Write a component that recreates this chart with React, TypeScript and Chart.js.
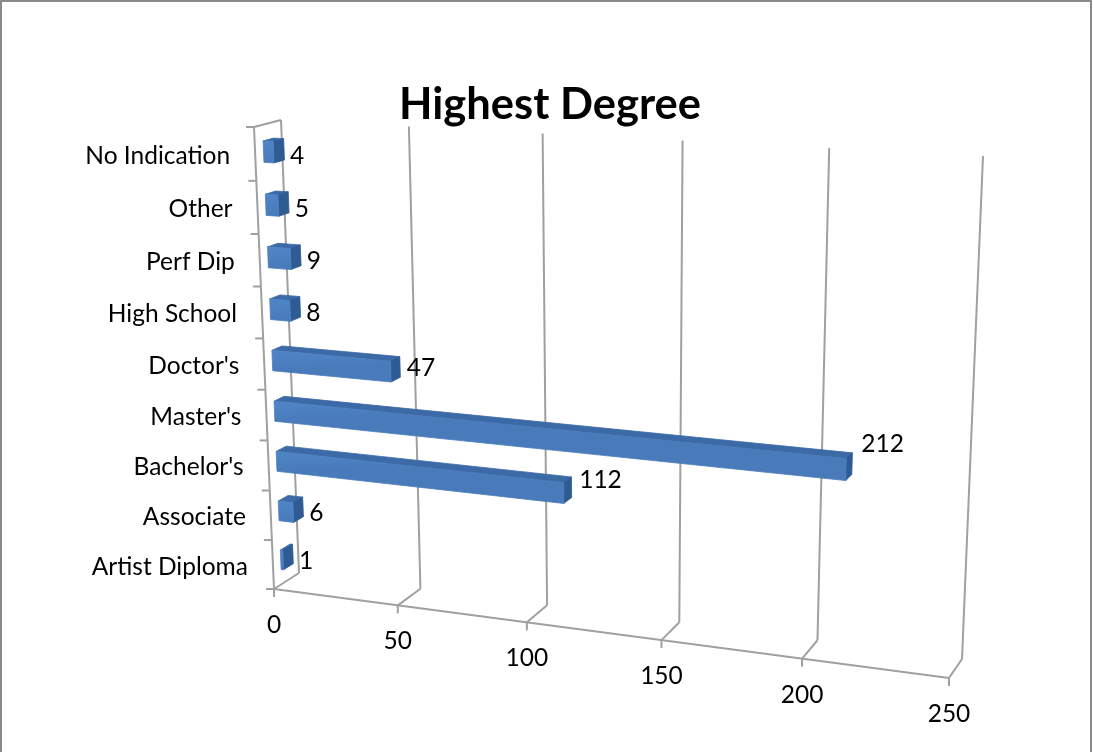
import React, { useEffect, useRef } from "react";
import { Chart, registerables } from "chart.js";

Chart.register(...registerables);

const categories = ["No Indication", "Other", "Perf Dip", "High School", "Doctor's", "Master's", "Bachelor's", "Associate", "Artist Diploma"];
const degreeCounts = [4, 5, 9, 8, 47, 212, 112, 6, 1];
const valueTicks = [0, 50, 100, 150, 200, 250];

const FONT = "Lato, 'Open Sans', sans-serif";
const FONT_SIZE = 24.5;
const GRID = "#a0a0a0";
const FRONT_TOP = "#4f85c7";
const FRONT_BOTTOM = "#497bbb";
const TOP_FACE = "#3c6aa6";
const SIDE_FACE = "#2f5b93";

type Pt = [number, number];

// Solves the projective map from the unit square to a quad (BL, BR, TR, TL).
function homography(bl: Pt, br: Pt, tr: Pt, tl: Pt) {
  const dx1 = br[0] - tr[0], dx2 = tl[0] - tr[0], sx = bl[0] - br[0] + tr[0] - tl[0];
  const dy1 = br[1] - tr[1], dy2 = tl[1] - tr[1], sy = bl[1] - br[1] + tr[1] - tl[1];
  const d = dx1 * dy2 - dx2 * dy1;
  const g = (sx * dy2 - dx2 * sy) / d;
  const h = (dx1 * sy - sx * dy1) / d;
  const a = br[0] - bl[0] + g * br[0], b = tl[0] - bl[0] + h * tl[0], c = bl[0];
  const e = br[1] - bl[1] + g * br[1], f = tl[1] - bl[1] + h * tl[1], k = bl[1];
  return (u: number, v: number): Pt => {
    const q = g * u + h * v + 1;
    return [(a * u + b * v + c) / q, (e * u + f * v + k) / q];
  };
}

const frontPlane = homography([274, 589], [949, 678], [968, 166], [254, 127]);
const backPlane = homography([299, 573], [962, 659], [983, 156], [281, 120]);
const project = (u: number, v: number, w: number): Pt => {
  const f = frontPlane(u, v), b = backPlane(u, v);
  return [f[0] + (b[0] - f[0]) * w, f[1] + (b[1] - f[1]) * w];
};

const BAR_FRONT = 0.31;
const BAR_BACK = 0.7;

const perspectivePlugin = {
  id: "perspective",
  beforeDatasetsDraw(chart: any) {
    const { ctx, chartArea: area, scales } = chart;
    const toU = (px: number) => (px - area.left) / (area.right - area.left);
    const toV = (py: number) => (area.bottom - py) / (area.bottom - area.top);
    const x = scales.x, y = scales.y;

    const line = (a: Pt, b: Pt) => {
      ctx.beginPath();
      ctx.moveTo(a[0], a[1]);
      ctx.lineTo(b[0], b[1]);
      ctx.stroke();
    };
    const quad = (pts: Pt[], fill: any) => {
      ctx.beginPath();
      pts.forEach((p, i) => (i ? ctx.lineTo(p[0], p[1]) : ctx.moveTo(p[0], p[1])));
      ctx.closePath();
      ctx.fillStyle = fill;
      ctx.strokeStyle = fill;
      ctx.lineWidth = 0.8;
      ctx.fill();
      ctx.stroke();
    };

    ctx.save();
    // Frame
    ctx.strokeStyle = "#8a8a8a";
    ctx.lineWidth = 2;
    ctx.beginPath();
    ctx.moveTo(1, 752);
    ctx.lineTo(1, 1);
    ctx.lineTo(1091, 1);
    ctx.lineTo(1091, 752);
    ctx.stroke();

    // Walls and grid
    ctx.strokeStyle = GRID;
    ctx.lineWidth = 2;
    line(project(0, 0, 0), project(0, 1, 0));
    line(project(0, 1, 0), project(0, 1, 1));
    line(project(0, 0, 0), project(1, 0, 0));
    valueTicks.forEach((t) => {
      const u = toU(x.getPixelForValue(t));
      const floorFront = project(u, 0, 0);
      line(floorFront, project(u, 0, 1));
      line(project(u, 0, 1), project(u, 1, 1));
      line(floorFront, [floorFront[0], floorFront[1] + 8]);
    });
    const step = (area.bottom - area.top) / categories.length;
    for (let i = 0; i <= categories.length; i++) {
      const p = project(0, toV(area.top + i * step), 0);
      line(p, [p[0] - 8, p[1]]);
    }

    // Bars
    const meta = chart.getDatasetMeta(0);
    meta.data.forEach((bar: any) => {
      const { x: end, y: mid, base, height } = bar.getProps(["x", "y", "base", "height"], true);
      const u0 = toU(base), u1 = toU(end);
      const v0 = toV(mid + height / 2), v1 = toV(mid - height / 2);
      const fbl = project(u0, v0, BAR_FRONT), fbr = project(u1, v0, BAR_FRONT);
      const ftr = project(u1, v1, BAR_FRONT), ftl = project(u0, v1, BAR_FRONT);
      const bbr = project(u1, v0, BAR_BACK), btr = project(u1, v1, BAR_BACK), btl = project(u0, v1, BAR_BACK);
      quad([ftl, ftr, btr, btl], TOP_FACE);
      quad([fbr, ftr, btr, bbr], SIDE_FACE);
      const g = ctx.createLinearGradient(ftl[0], ftl[1], fbl[0], fbl[1]);
      g.addColorStop(0, FRONT_TOP);
      g.addColorStop(1, FRONT_BOTTOM);
      quad([fbl, fbr, ftr, ftl], g);
    });

    // Text
    ctx.fillStyle = "#000";
    ctx.font = `${FONT_SIZE}px ${FONT}`;
    ctx.textBaseline = "middle";
    ctx.textAlign = "right";
    categories.forEach((name, i) => {
      const p = project(0, toV(y.getPixelForValue(i)), 0);
      ctx.fillText(name, p[0] - 25, p[1] + 2);
    });
    ctx.textAlign = "center";
    valueTicks.forEach((t) => {
      const p = project(toU(x.getPixelForValue(t)), 0, 0);
      ctx.fillText(String(t), p[0], p[1] + 36);
    });
    ctx.textAlign = "left";
    meta.data.forEach((bar: any, i: number) => {
      const { x: end, y: mid } = bar.getProps(["x", "y"], true);
      const value = degreeCounts[i];
      const p = project(toU(end), toV(mid), BAR_BACK);
      ctx.fillText(String(value), p[0] + 6 + value * 0.015, p[1] + 7 - value * 0.125);
    });
    ctx.restore();
    return false;
  },
};

export default function App() {
  const ref = useRef<HTMLCanvasElement>(null);
  useEffect(() => {
    const chart = new Chart(ref.current!, {
      type: "bar",
      data: {
        labels: categories,
        datasets: [
          {
            label: "Highest Degree",
            data: degreeCounts,
            backgroundColor: FRONT_BOTTOM,
            barPercentage: 0.4,
            categoryPercentage: 1,
          },
        ],
      },
      plugins: [perspectivePlugin],
      options: {
        animation: false,
        responsive: false,
        indexAxis: "y",
        layout: { padding: { top: 79, left: 7 } },
        scales: {
          x: { display: false, min: 0, max: 250 },
          y: { display: false },
        },
        plugins: {
          legend: { display: false },
          tooltip: { enabled: false },
          title: {
            display: true,
            text: "Highest Degree",
            color: "#000",
            font: { family: FONT, size: 43.5, weight: "bold" },
            padding: 0,
          },
        },
      },
    } as any);
    return () => chart.destroy();
  }, []);
  return (
    <div style={{ position: "absolute", left: 0, top: 0, width: 1093, height: 752, background: "#fff" }}>
      <canvas ref={ref} width={1093} height={752} style={{ display: "block" }} />
    </div>
  );
}
